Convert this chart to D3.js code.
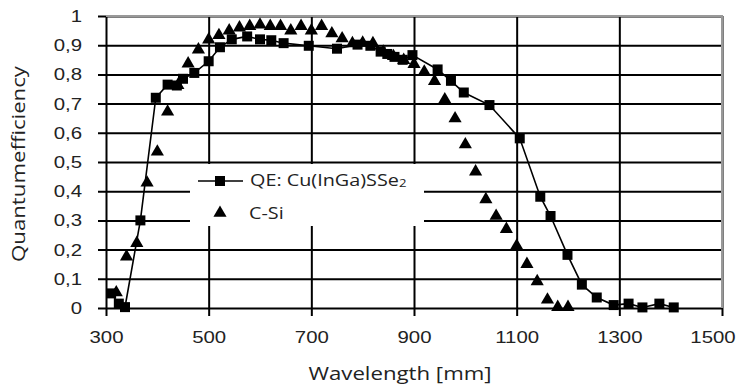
<!DOCTYPE html>
<html>
<head>
<meta charset="utf-8">
<script src="https://cdn.jsdelivr.net/npm/d3@7"></script>
<style>
  body { margin: 0; background: #fff; }
  svg { display: block; font-family: "Open Sans", sans-serif; }
</style>
</head>
<body>
<svg id="chart" width="737" height="387"></svg>
<script>

// QE: Cu(InGa)SSe2 (squares, with line)
const cigsWavelength = [310, 325, 337, 367, 397, 420, 438, 450, 472, 500, 522, 545, 575, 600, 622, 646, 695, 750, 790, 815, 835, 848, 862, 878, 897, 946, 972, 997, 1047, 1106, 1146, 1166, 1199, 1227, 1256, 1289, 1318, 1345, 1378, 1406];
const cigsQE = [0.05, 0.015, 0.003, 0.30, 0.72, 0.765, 0.762, 0.785, 0.805, 0.845, 0.893, 0.92, 0.93, 0.92, 0.917, 0.907, 0.898, 0.888, 0.902, 0.898, 0.878, 0.87, 0.86, 0.85, 0.866, 0.817, 0.778, 0.738, 0.695, 0.581, 0.381, 0.315, 0.182, 0.08, 0.036, 0.01, 0.015, 0.002, 0.015, 0.002];

// C-Si (triangles)
const siWavelength = [320, 340, 360, 380, 400, 420, 440, 460, 480, 500, 520, 540, 560, 580, 600, 620, 640, 660, 680, 700, 720, 740, 760, 780, 800, 820, 840, 860, 880, 900, 920, 940, 960, 980, 1000, 1020, 1040, 1060, 1080, 1100, 1120, 1140, 1160, 1180, 1200];
const siQE = [0.053, 0.176, 0.222, 0.429, 0.535, 0.672, 0.763, 0.837, 0.885, 0.919, 0.934, 0.95, 0.96, 0.965, 0.97, 0.965, 0.965, 0.95, 0.965, 0.95, 0.965, 0.94, 0.923, 0.906, 0.908, 0.906, 0.877, 0.862, 0.849, 0.835, 0.809, 0.777, 0.714, 0.649, 0.56, 0.467, 0.372, 0.315, 0.27, 0.213, 0.15, 0.091, 0.028, 0.003, 0.003];

const xTicks = [300, 500, 700, 900, 1100, 1300, 1500];
const yTicks = [0, 0.1, 0.2, 0.3, 0.4, 0.5, 0.6, 0.7, 0.8, 0.9, 1];
const yTickLabels = ["0", "0,1", "0,2", "0,3", "0,4", "0,5", "0,6", "0,7", "0,8", "0,9", "1"];

const svg = d3.select('#chart');
const plotLeft = 106, plotRight = 722, plotTop = 16, plotBottom = 308;
const stretch = 1.2;  // the original lettering is a bit wide

const x = d3.scaleLinear().domain([300, 1500]).range([plotLeft, plotRight]);
const y = d3.scaleLinear().domain([0, 1]).range([plotBottom, plotTop]);

// horizontal grid + ticks
const yAxis = d3.axisLeft(y)
  .tickValues(yTicks)
  .tickSize(-(plotRight - plotLeft))
  .tickSizeOuter(0)
  .tickPadding(20)
  .tickFormat((d, i) => yTickLabels[i]);

const gy = svg.append('g').attr('transform', `translate(${plotLeft},0)`).call(yAxis);
gy.select('.domain').remove();
gy.selectAll('.tick line')
  .attr('x1', -8)
  .attr('stroke', '#000')
  .attr('stroke-width', 2);
gy.selectAll('.tick text')
  .attr('font-size', 17)
  .attr('fill', '#222')
  .attr('transform', `scale(${stretch},1)`);

// vertical grid + ticks
const xAxis = d3.axisBottom(x)
  .tickValues(xTicks)
  .tickSize(-(plotBottom - plotTop))
  .tickSizeOuter(0)
  .tickPadding(23)
  .tickFormat(d3.format('d'));

const gx = svg.append('g').attr('transform', `translate(0,${plotBottom})`).call(xAxis);
gx.select('.domain').remove();
gx.selectAll('.tick line')
  .attr('y1', 8)
  .attr('stroke', '#000')
  .attr('stroke-width', 2);
gx.selectAll('.tick text')
  .attr('font-size', 17)
  .attr('fill', '#222')
  .attr('transform', `scale(${stretch},1)`);
// last label pulled in so it stays on the page
gx.selectAll('.tick text')
  .filter(d => d === 1500)
  .attr('text-anchor', 'end')
  .attr('x', 11);

// grey frame top and right
svg.append('path')
  .attr('d', `M${plotLeft},${plotTop}H${plotRight}V${plotBottom}`)
  .attr('fill', 'none')
  .attr('stroke', '#999')
  .attr('stroke-width', 2);

// legend background covers the grid
svg.append('rect')
  .attr('x', 190).attr('y', 164)
  .attr('width', 234).attr('height', 62)
  .attr('fill', '#fff');

const cigs = cigsWavelength.map((w, i) => [w, cigsQE[i]]);
const si = siWavelength.map((w, i) => [w, siQE[i]]);

svg.append('path')
  .datum(cigs)
  .attr('d', d3.line().x(d => x(d[0])).y(d => y(d[1])))
  .attr('fill', 'none')
  .attr('stroke', '#000')
  .attr('stroke-width', 1.6);

const square = d3.symbol().type(d3.symbolSquare).size(100);
const triangle = d3.symbol().type(d3.symbolTriangle).size(75);

svg.append('g').selectAll('path')
  .data(cigs)
  .join('path')
  .attr('d', square)
  .attr('transform', d => `translate(${x(d[0])},${y(d[1])})`)
  .attr('fill', '#000');

svg.append('g').selectAll('path')
  .data(si)
  .join('path')
  .attr('d', triangle)
  .attr('transform', d => `translate(${x(d[0])},${y(d[1])})`)
  .attr('fill', '#000');

// stretched text placed at (tx, ty)
function label(tx, ty, size, extra) {
  return svg.append('text')
    .attr('transform', `translate(${tx},${ty}) ${extra || ''} scale(${stretch},1)`)
    .attr('font-size', size)
    .attr('fill', '#222');
}

// legend
const legend = svg.append('g');
legend.append('line')
  .attr('x1', 198).attr('x2', 243)
  .attr('y1', 181).attr('y2', 181)
  .attr('stroke', '#000').attr('stroke-width', 1.6);
legend.append('path').attr('d', square).attr('transform', 'translate(220,181)');
legend.append('path').attr('d', triangle).attr('transform', 'translate(220,213)');

const t1 = label(250, 185.5, 16.5);
t1.append('tspan').text('QE: Cu(InGa)SSe');
t1.append('tspan').attr('font-size', 11).attr('dy', 1.5).text('2');

label(249, 218.5, 16.5).text('C-Si');

// axis titles
label(400, 380, 18.5).attr('text-anchor', 'middle').text('Wavelength [mm]');
label(25, 164, 18.5, 'rotate(-90)').attr('text-anchor', 'middle').text('Quantumefficiency');

</script>
</body>
</html>
